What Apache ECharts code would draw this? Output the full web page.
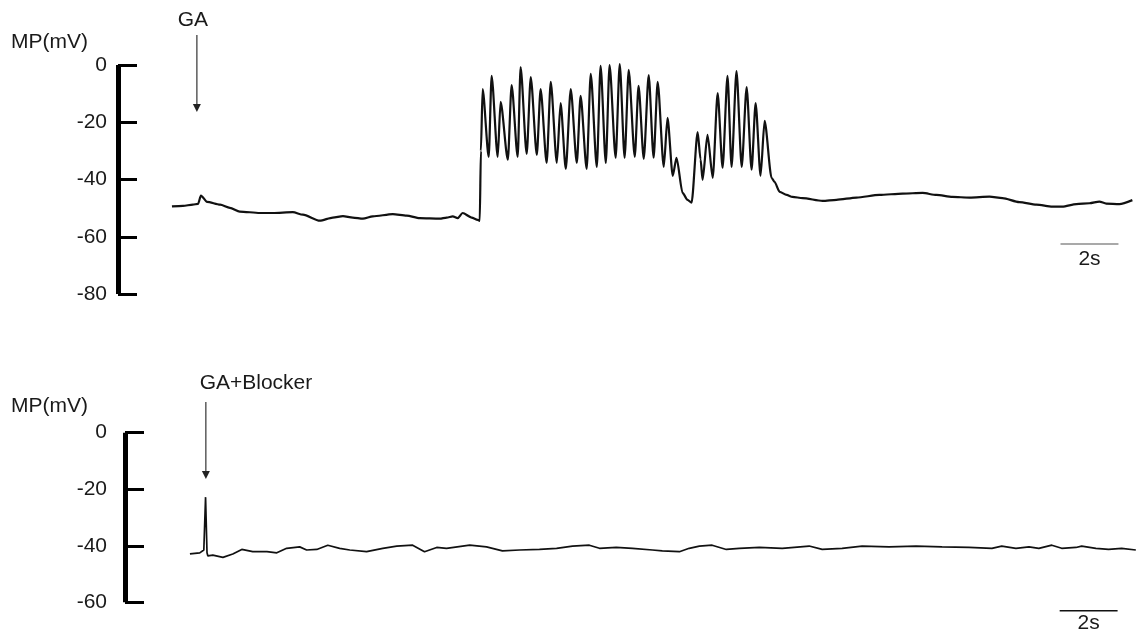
<!DOCTYPE html>
<html>
<head>
<meta charset="utf-8">
<script src="https://cdn.jsdelivr.net/npm/echarts@6/dist/echarts.min.js"></script>
<style>
  html, body { margin: 0; padding: 0; background: #fff; }
  #chart { width: 1137px; height: 639px; }
</style>
</head>
<body>
<div id="chart"></div>
<script>
// Membrane potential after GA application (time in s from trace start, MP in mV)
const gaTime = [0.00, 0.38, 0.72, 0.90, 1.00, 1.21, 1.66, 2.00, 2.34, 3.03, 3.48, 4.17, 4.52, 5.10, 5.55, 5.90, 6.24, 6.59, 6.93, 7.62, 8.10, 8.55, 9.24, 9.48, 9.69, 9.86, 10.03, 10.34, 10.55, 10.62, 10.66, 10.72,
  10.93, 11.03, 11.24, 11.34, 11.59, 11.72, 11.93, 12.03, 12.24, 12.38, 12.59, 12.72, 12.93, 13.07, 13.28, 13.41, 13.59, 13.76, 13.97, 14.10, 14.31, 14.45, 14.66, 14.79, 14.97, 15.10, 15.31, 15.45, 15.62, 15.76, 15.97, 16.10, 16.28, 16.45, 16.62, 16.76, 16.97, 17.10, 17.28, 17.41,
  17.62, 17.79, 17.93, 18.14, 18.24, 18.31, 18.48, 18.66, 18.83, 19.00, 19.17, 19.31, 19.48, 19.66, 19.83, 20.00, 20.14, 20.31, 20.45, 20.69, 20.79, 20.97, 21.21, 21.41, 21.76,
  22.45, 22.93, 23.62, 24.41, 25.21, 25.90, 26.38, 26.93, 27.52, 28.21, 28.66, 29.24, 29.83, 30.38, 30.72, 31.21, 31.66, 32.00, 32.24, 32.69, 33.14];
const gaMP = [-49.4, -49.2, -48.8, -48.5, -45.6, -47.8, -48.8, -49.9, -51.2, -51.7, -51.7, -51.4, -52.3, -54.4, -53.3, -52.8, -53.3, -53.7, -52.9, -52.1, -52.6, -53.5, -53.7, -53.3, -52.9, -53.5, -51.7, -53.3, -54.1, -54.5, -30.0, -8.4,
  -32.1, -3.8, -32.1, -12.9, -33.1, -7.0, -32.1, -0.7, -31.1, -4.2, -31.4, -8.4, -34.2, -5.9, -34.2, -13.3, -36.3, -8.4, -34.2, -10.8, -36.3, -3.1, -35.6, -0.3, -34.2, 0.0, -32.4, 0.3, -32.4, -1.7, -32.1, -7.3, -32.8, -3.5, -32.4, -5.9, -35.6, -18.5, -38.7, -32.4,
  -44.7, -47.1, -48.1, -23.4, -33.0, -40.1, -24.4, -39.4, -9.8, -35.9, -3.8, -35.6, -2.1, -35.6, -7.7, -36.6, -13.3, -38.7, -19.5, -39.4, -40.8, -44.3, -45.4, -46.1, -46.5,
  -47.5, -47.1, -46.3, -45.4, -44.9, -44.7, -45.4, -46.1, -46.3, -46.0, -46.5, -47.9, -48.8, -49.5, -49.5, -48.6, -48.3, -47.7, -48.4, -48.6, -47.2];

// Membrane potential after GA + blocker
const blockTime = [0.00, 0.34, 0.48, 0.54, 0.59, 0.62, 0.79, 1.14, 1.48, 1.79, 2.17, 2.66, 3.00, 3.34, 3.79, 4.03, 4.38, 4.76, 5.17, 5.52, 6.10, 6.66, 7.14, 7.69, 8.10, 8.52, 8.86, 9.66, 10.24, 10.79, 11.38, 12.07, 12.66, 13.21, 13.79, 14.14, 14.72, 15.28, 15.97,
  16.31, 16.90, 17.24, 17.59, 18.03, 18.52, 18.97, 19.66, 20.45, 21.38, 21.83, 22.52, 23.21, 24.14, 25.07, 25.97, 26.90, 27.69, 28.03, 28.52, 28.97, 29.31, 29.76, 30.10, 30.59, 30.79, 31.28, 31.72, 32.17, 32.66];
const blockMP = [-42.9, -42.5, -41.5, -22.8, -42.5, -43.6, -43.3, -44.1, -42.9, -41.3, -42.1, -42.1, -42.5, -40.9, -40.4, -41.5, -41.3, -39.8, -40.9, -41.5, -42.1, -40.9, -40.1, -39.8, -42.1, -40.6, -40.9, -39.8, -40.4, -41.8, -41.5, -41.3, -40.9, -40.1, -39.8, -40.9, -40.6, -40.9, -41.5,
  -41.8, -42.1, -40.9, -40.1, -39.8, -41.3, -40.9, -40.6, -40.9, -40.1, -41.3, -40.9, -40.1, -40.4, -40.1, -40.4, -40.6, -40.9, -40.1, -40.9, -40.4, -40.9, -39.8, -40.9, -40.6, -40.1, -40.9, -41.3, -40.9, -41.5];

const gaAxisTicks = [0, -20, -40, -60, -80];
const blockAxisTicks = [0, -20, -40, -60];
const scaleBarSeconds = 2;

// Annotations in data units: drug application arrows and 2 s scale bars
const gaArrow = { t: 0.86, from: 10.5, to: -16.4, label: 'GA', labelT: 0.72, labelMP: 15.7 };
const blockArrow = { t: 0.55, from: 10.9, to: -16.4, label: 'GA+Blocker', labelT: 2.28, labelMP: 17.6 };
const gaBar = { t: 30.66, mp: -62.5, labelMP: -67.7, color: '#8c8c8c' };
const blockBar = { t: 30.03, mp: -63.0, labelMP: -67.3, color: '#111' };

const FONT = 'Liberation Sans, Arial, Helvetica, sans-serif';
const INK = '#1a1a1a';

function zip(t, v) { return t.map((x, i) => [x, v[i]]); }

function mpAxis(gridIndex, ticks, offset, margin, nameGap, namePad) {
  return {
    gridIndex, type: 'value',
    min: Math.min(...ticks), max: Math.max(...ticks), interval: 20,
    offset,
    name: 'MP(mV)', nameLocation: 'end', nameGap,
    nameTextStyle: { fontFamily: FONT, fontSize: 21, color: INK, align: 'right', padding: [0, namePad, 0, 0] },
    axisLine: { show: true, onZero: false, lineStyle: { color: '#000', width: 5, cap: 'butt' } },
    axisTick: { show: true, inside: true, length: 19, lineStyle: { color: '#000', width: 3 } },
    axisLabel: { margin, fontFamily: FONT, fontSize: 21, color: INK },
    splitLine: { show: false }
  };
}

const chart = echarts.init(document.getElementById('chart'), null, { renderer: 'canvas' });

chart.setOption({
  animation: false,
  backgroundColor: '#fff',
  grid: [
    { left: 114, top: 65, width: 1023.7, height: 229 },
    { left: 132, top: 432.7, width: 1006.3, height: 169.6 }
  ],
  xAxis: [
    { gridIndex: 0, type: 'value', min: -2, max: 33.3, show: false },
    { gridIndex: 1, type: 'value', min: -2, max: 32.7, show: false }
  ],
  yAxis: [
    mpAxis(0, gaAxisTicks, -4, 11, 12, 30),
    mpAxis(1, blockAxisTicks, 7, 18, 16, 37)
  ],
  series: [
    {
      type: 'line', xAxisIndex: 0, yAxisIndex: 0,
      data: zip(gaTime, gaMP),
      showSymbol: false, clip: false,
      smooth: 0.25, smoothMonotone: 'x',
      lineStyle: { color: '#111', width: 2.2 }
    },
    {
      type: 'line', xAxisIndex: 1, yAxisIndex: 1,
      data: zip(blockTime, blockMP),
      showSymbol: false, clip: false,
      lineStyle: { color: '#111', width: 1.7 }
    }
  ]
});

// Annotations lie partly outside the plotting range, so they are drawn as
// graphic elements placed through the axes' own coordinate conversion.
function annotations(axisIndex, arrow, bar) {
  const finder = { xAxisIndex: axisIndex, yAxisIndex: axisIndex };
  const px = (t, v) => chart.convertToPixel(finder, [t, v]);
  const a0 = px(arrow.t, arrow.from);
  const a1 = px(arrow.t, arrow.to);
  const lab = px(arrow.labelT, arrow.labelMP);
  const b0 = px(bar.t, bar.mp);
  const b1 = px(bar.t + scaleBarSeconds, bar.mp);
  const bl = px(bar.t + scaleBarSeconds / 2, bar.labelMP);
  const textStyle = (p, text) => ({
    type: 'text', silent: true,
    style: { text, x: p[0], y: p[1], font: '21px ' + FONT, fill: INK, align: 'center', verticalAlign: 'middle' }
  });
  return [
    { type: 'line', silent: true, shape: { x1: a0[0], y1: a0[1], x2: a1[0], y2: a1[1] - 7 }, style: { stroke: '#333', lineWidth: 1.2 } },
    { type: 'polygon', silent: true, shape: { points: [[a1[0] - 4, a1[1] - 8], [a1[0] + 4, a1[1] - 8], [a1[0], a1[1]]] }, style: { fill: '#222' } },
    textStyle(lab, arrow.label),
    { type: 'line', silent: true, shape: { x1: b0[0], y1: b0[1], x2: b1[0], y2: b1[1] }, style: { stroke: bar.color, lineWidth: 1.5 } },
    textStyle(bl, '2s')
  ];
}

chart.setOption({
  graphic: { elements: annotations(0, gaArrow, gaBar).concat(annotations(1, blockArrow, blockBar)) }
});
</script>
</body>
</html>
